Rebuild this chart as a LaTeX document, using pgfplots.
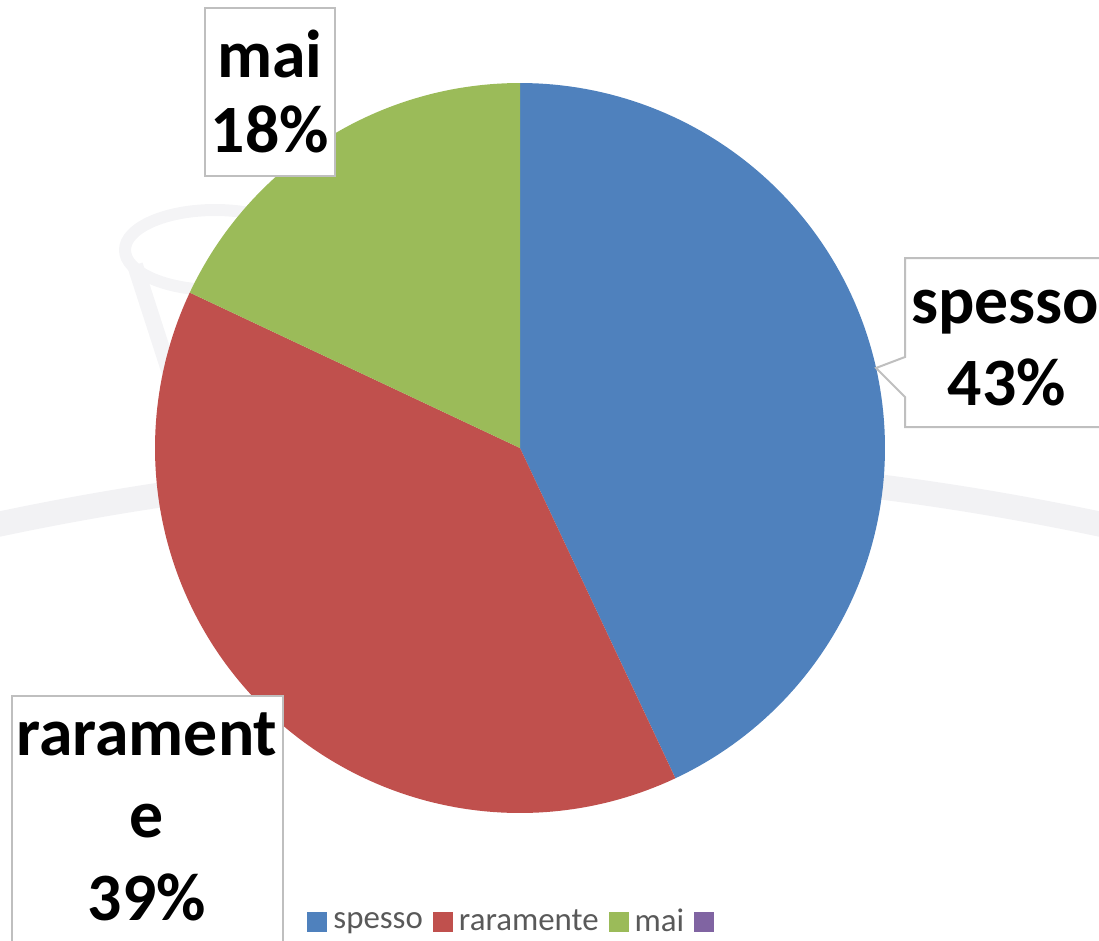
\documentclass[border=0pt]{standalone}
\usepackage{pgfplots}
\pgfplotsset{compat=1.18}
\usepackage{fontspec}
\setmainfont{Carlito}
\definecolor{cA}{HTML}{4F81BD}
\definecolor{cB}{HTML}{C0504D}
\definecolor{cC}{HTML}{9BBB59}
\definecolor{cD}{HTML}{8064A2}
\definecolor{wm}{HTML}{F2F2F4}
\definecolor{wm2}{HTML}{F4F4F6}
\definecolor{bx}{HTML}{BFBFBF}
\definecolor{lg}{HTML}{595959}
\begin{document}
\begin{tikzpicture}
% data: percentages
\pgfmathsetmacro\vA{43}% spesso
\pgfmathsetmacro\vB{39}% raramente
\pgfmathsetmacro\vC{18}% mai
\pgfmathsetmacro\aA{90}
\pgfmathsetmacro\aB{\aA-3.6*\vA}
\pgfmathsetmacro\aC{\aB-3.6*\vB}
\pgfmathsetmacro\aD{\aC-3.6*\vC}
\begin{axis}[
  scale only axis, width=549.5bp, height=470.5bp,
  xmin=0, xmax=1099, ymin=0, ymax=941, y dir=reverse,
  hide axis, clip=false,
  legend columns=-1,
  legend image code/.code={\fill[#1, draw=none] (0bp,-5bp) rectangle (10bp,5bp); \path (0bp,0bp) (13bp,0bp);},
  legend style={at={(axis cs:307,922)}, anchor=west, draw=none, fill=none,
    font=\fontsize{16.5}{19}\selectfont, text=lg, inner sep=0pt,
    nodes={inner sep=0pt},
    /tikz/every even column/.append style={column sep=5bp}},
]
% faint watermark
\draw[wm, line width=12.5bp] (axis cs:-5,525) .. controls (axis cs:366,446) and (axis cs:733,446) .. (axis cs:1104,525);
\draw[wm2, line width=6bp] (axis cs:215,250) ellipse [x radius=45bp, y radius=20bp];
\draw[wm2, line width=8bp] (axis cs:135,265) -- (axis cs:185,420);
% pie slices
\addplot[fill=cA, draw=none, domain=\aB:\aA, samples=120, variable=\t]
  ({520+365*cos(\t)},{448-365*sin(\t)}) -- (axis cs:520,448) -- cycle;
\addlegendentry{spesso}
\addplot[fill=cB, draw=none, domain=\aC:\aB, samples=120, variable=\t]
  ({520+365*cos(\t)},{448-365*sin(\t)}) -- (axis cs:520,448) -- cycle;
\addlegendentry{raramente}
\addplot[fill=cC, draw=none, domain=\aD:\aC, samples=60, variable=\t]
  ({520+365*cos(\t)},{448-365*sin(\t)}) -- (axis cs:520,448) -- cycle;
\addlegendentry{mai}
\addlegendimage{fill=cD, draw=none}
\addlegendentry{}
% label boxes
\draw[bx, line width=1bp, fill=white] (axis cs:205,8) rectangle (axis cs:335,176);
\fill[white] (axis cs:1099,258) -- (axis cs:905,258) -- (axis cs:905,357) -- (axis cs:876,368) -- (axis cs:905,397) -- (axis cs:905,427) -- (axis cs:1099,427) -- cycle;
\draw[bx, line width=1bp] (axis cs:1099,258) -- (axis cs:905,258) -- (axis cs:905,357) -- (axis cs:876,368) -- (axis cs:905,397) -- (axis cs:905,427) -- (axis cs:1099,427);
\fill[white] (axis cs:12,941) -- (axis cs:12,696) -- (axis cs:283,696) -- (axis cs:283,941) -- cycle;
\draw[bx, line width=1bp] (axis cs:12,941) -- (axis cs:12,696) -- (axis cs:283,696) -- (axis cs:283,941);
% label texts
\begin{scope}[every node/.style={anchor=base, inner sep=0pt, font=\fontsize{34}{40}\selectfont\bfseries}]
\node at (axis cs:270,78) {mai};
\node at (axis cs:270,153) {18\%};
\node at (axis cs:1005,323) {spesso};
\node at (axis cs:1007,405) {43\%};
\node at (axis cs:147,755) {rarament};
\node at (axis cs:147,837) {e};
\node at (axis cs:147,920) {39\%};
\end{scope}
\end{axis}
\pgfresetboundingbox
\path (current axis.south west) rectangle (current axis.north east);
\end{tikzpicture}
\end{document}
